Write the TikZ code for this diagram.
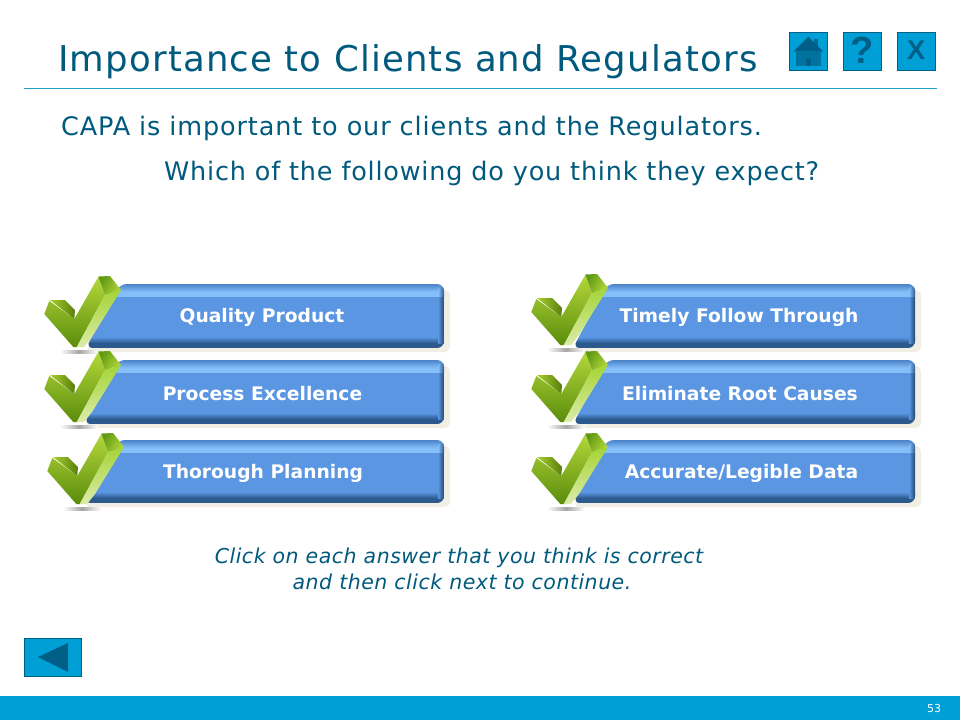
\documentclass[tikz,border=0pt]{standalone}
\usepackage{fontspec}
\setmainfont{DejaVu Sans}
\newfontfamily\spacedfont[LetterSpace=3.35]{DejaVu Sans}
\newfontfamily\spacedone[LetterSpace=3.4]{DejaVu Sans}
\newfontfamily\spacedtwo[LetterSpace=3.1]{DejaVu Sans}
\newfontfamily\hintfont[LetterSpace=2.45]{DejaVu Sans}
\newfontfamily\iconfont{Liberation Sans}
\definecolor{ink}{HTML}{005A7D}
\definecolor{teal}{HTML}{009FD6}
\definecolor{rulec}{HTML}{1FA3C9}
\definecolor{iconedge}{HTML}{005F87}
\definecolor{bbody}{HTML}{5B96E2}
\definecolor{bhigh}{HTML}{84BFFA}
\definecolor{bdark}{HTML}{2C5A8E}
\definecolor{bedge}{HTML}{4C82C8}
\definecolor{bcream}{HTML}{F1EEE4}
\definecolor{gfronta}{HTML}{B4D83A}
\definecolor{gfrontb}{HTML}{5A8C0C}
\definecolor{gtopa}{HTML}{A8CE2C}
\definecolor{gtopb}{HTML}{587F0C}
\definecolor{gstripa}{HTML}{A4D436}
\definecolor{gstripb}{HTML}{DCEBAA}
\definecolor{gcapa}{HTML}{5F9812}
\definecolor{gcapb}{HTML}{B2D63A}
\tikzset{
  x=1pt,y=-1pt,
  iconbox/.style={fill=teal,draw=iconedge,line width=1pt},
  icontext/.style={text=iconedge,inner sep=0pt},
  btnlabel/.style={text=white,font=\bfseries\fontsize{18.7}{22}\selectfont,inner sep=0pt},
  hinttext/.style={text=ink,inner sep=0pt,font=\hintfont\itshape\fontsize{20.5}{26}\selectfont,align=center},
  bodytext/.style={text=ink,inner sep=0pt},
}
% #1 name, #2 left, #3 right, #4 top, #5 bottom, #6 label, #7 check dx, #8 check dy, #9 label x
\newcommand\capabutton[9]{%
  \fill[bcream,rounded corners=6pt] (#2+34,#4+6) -- (#3+6,#4+6) -- (#3+6,#5+4) -- (#2,#5+4) -- cycle;
  \begin{scope}
    \clip[rounded corners=7pt] (#2+34,#4) -- (#3,#4) -- (#3,#5) -- (#2,#5) -- cycle;
    \shade[top color=bedge,bottom color=bhigh] (#2-5,#4) rectangle (#3,#4+8);
    \fill[bhigh] (#2-5,#4+8) rectangle (#3,#4+13);
    \fill[bbody] (#2-5,#4+13) rectangle (#3,#5-11);
    \shade[top color=bbody,bottom color=bdark] (#2-5,#5-11) rectangle (#3,#5-5);
    \fill[bdark] (#2-5,#5-5) rectangle (#3,#5);
    \shade[left color=bbody,right color=bdark!80!black] (#3-6,#4+13) rectangle (#3,#5-5);
    \shade[left color=bhigh,right color=bdark] (#3-6,#4+5) -- (#3,#4+2) -- (#3,#4+13) -- (#3-6,#4+13) -- cycle;
  \end{scope}
  \node[btnlabel] (#1) at (#9,{(#4+#5)/2+1.5}) {#6};
  \begin{scope}[shift={(#7,#8)}]
    \shade[left color=white,right color=white,middle color=black!35] (60,350) rectangle (98,353);
    \shade[top color=gfronta,bottom color=gfrontb]
      (44.3,314) -- (49.3,301) -- (74.3,319) -- (98.3,277) -- (105,295) -- (77,347) -- (73.3,347) -- cycle;
    \shade[left color=gtopa,right color=gtopb]
      (50,300) -- (65,300) -- (75,310) -- (74.3,319) -- cycle;
    \shade[top color=gstripa,bottom color=gstripb]
      (105,295) -- (121,290) -- (92,337) -- (84,347) -- (76.7,347) -- cycle;
    \shade[left color=gcapa,right color=gcapb,shading angle=60]
      (98.3,276.5) -- (110,276) -- (121,290) -- (105,295) -- cycle;
  \end{scope}
}
\begin{document}
\begin{tikzpicture}
\useasboundingbox (0,0) rectangle (960,720);
\fill[white] (0,0) rectangle (960,720);

\node[anchor=west,text=ink,inner sep=0pt,font=\spacedfont\fontsize{35.5}{40}\selectfont] (title) at (58,62) {Importance to Clients and Regulators};
\coordinate (ruleL) at (24,88.5);
\coordinate (ruleR) at (937,88.5);
\draw[rulec,line width=1pt] (ruleL) -- (ruleR);

\node[anchor=west,bodytext,font=\spacedone\fontsize{25.5}{30}\selectfont] (line1) at (61,128) {CAPA is important to our clients and the Regulators.};
\node[anchor=west,bodytext,font=\spacedtwo\fontsize{25.5}{30}\selectfont] (line2) at (164,173) {Which of the following do you think they expect?};

% home icon
\draw[iconbox] (789,32) rectangle (827,70);
\fill[iconedge!85!teal] (814.3,39) rectangle (817.7,46);
\fill[iconedge!70!teal] (796,51.7) rectangle (820.7,66);
\fill[iconedge] (793.3,51.7) -- (808.3,36.7) -- (823.3,51.7) -- cycle;
\fill[iconedge] (806,58.3) rectangle (810.7,66);
% help and close icons
\draw[iconbox] (843,32) rectangle (881,70);
\node[icontext,font=\iconfont\bfseries\fontsize{38}{38}\selectfont] (help) at (862,50) {?};
\draw[iconbox] (897,32) rectangle (935,70);
\node[icontext,font=\iconfont\bfseries\fontsize{27}{27}\selectfont] (close) at (916,50) {X};

\capabutton{q1}{86}{444}{284}{348}{Quality Product}{0}{0}{262}
\capabutton{q2}{84}{444}{360}{424}{Process Excellence}{0}{75}{262.5}
\capabutton{q3}{84}{444}{440}{503}{Thorough Planning}{3}{157}{263}
\capabutton{q4}{573}{915}{284}{348}{Timely Follow Through}{487}{-2}{739}
\capabutton{q5}{573}{915}{360}{424}{Eliminate Root Causes}{487}{75}{740}
\capabutton{q6}{573}{915}{440}{503}{Accurate/Legible Data}{487}{157}{741.5}

\node[hinttext] (hint) at (459,569) {Click on each answer that you think is correct\\\hspace*{6pt}and then click next to continue.};

\draw[iconbox] (24,638) rectangle (81,676);
\fill[iconedge] (38,657) -- (68,643) -- (68,672) -- cycle;

\fill[teal] (0,696) rectangle (960,720);
\node[text=white,inner sep=0pt,font=\fontsize{11}{13}\selectfont] (page) at (934,708) {53};
\end{tikzpicture}
\end{document}
